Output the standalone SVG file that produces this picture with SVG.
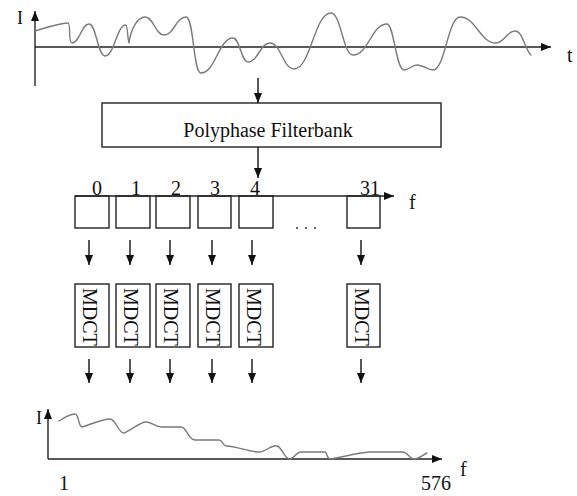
<svg xmlns="http://www.w3.org/2000/svg" width="577" height="496" viewBox="0 0 577 496">
<style>
text{font-family:"Liberation Serif","Times New Roman",serif;fill:#111;}
.lbl{font-size:20px;}
.ax{font-size:18px;}
.axis{stroke:#222;stroke-width:1.4;fill:none;}
.wave{stroke:#7a7a7a;stroke-width:1.4;fill:none;stroke-linejoin:round;stroke-linecap:round;}
.box{fill:#fff;stroke:#222;stroke-width:1.4;}
.conn{stroke:#111;stroke-width:1.4;fill:none;}
</style>
<defs>
<marker id="ah" markerUnits="userSpaceOnUse" markerWidth="10" markerHeight="8" refX="10" refY="4" orient="auto">
<path d="M0,0 L10,4 L0,8 z" fill="#111"/>
</marker>
</defs>
<g id="time-signal">
<line class="axis" x1="35" y1="86" x2="35" y2="11" marker-end="url(#ah)"/>
<line class="axis" x1="35" y1="47" x2="551" y2="47" marker-end="url(#ah)"/>
<path class="wave" d="M35,31 C48,27 60,23 68,23 C71,23 68,43 72,43 C79.6,43 81.4,24 89,24 C96.2,24 97.8,56 105,56 C114.5,56 116.5,25 126,25 C127.5,25 128,43 129,43 C131,28 138,17 145,17 C153.5,17 155.5,35 164,35 C173.9,35 176.1,17 186,17 C194,17 193,73 201,73 C215.4,73 218.6,38 233,38 C239.75,38 241.25,62 248,62 C257.9,62 260.1,43 270,43 C280.8,43 283.2,69 294,69 C310.65,69 314.35,13 331,13 C340.9,13 343.1,55 353,55 C368.3,55 371.7,24 387,24 C394,24 396,70 404,70 C409,70 412,65 417,65 C423,65 428,70 433,70 C445,70 448,17 460,17 C476,17 480,43 496,43 C504.5,43 506.5,31 515,31 C523,31 525,50 531,55"/>
<text class="ax" x="17" y="24">I</text>
<text class="lbl" x="567" y="62">t</text>
</g>
<g id="filterbank">
<rect class="box" x="102" y="103" width="339" height="44"/>
<text class="lbl" x="268" y="137" text-anchor="middle">Polyphase Filterbank</text>
</g>
<g id="subbands">
<rect class="box" x="75" y="196" width="34" height="32"/>
<rect class="box" x="116" y="196" width="34" height="32"/>
<rect class="box" x="156" y="196" width="34" height="32"/>
<rect class="box" x="198" y="196" width="33" height="32"/>
<rect class="box" x="239" y="196" width="34" height="32"/>
<rect class="box" x="347" y="196" width="33" height="32"/>
<line class="axis" x1="75" y1="196" x2="394" y2="196" marker-end="url(#ah)"/>
<g class="lbl" text-anchor="middle">
<text x="97" y="195">0</text>
<text x="136" y="195">1</text>
<text x="176" y="195">2</text>
<text x="215" y="195">3</text>
<text x="255" y="195">4</text>
<text x="370" y="195">31</text>
</g>
<text class="lbl" x="409" y="209">f</text>
<g fill="#222"><circle cx="297" cy="228" r="0.9"/><circle cx="306" cy="228" r="0.9"/><circle cx="315" cy="228" r="0.9"/></g>
</g>
<g id="mdct">
<rect class="box" x="75" y="284" width="34" height="63"/>
<rect class="box" x="116" y="284" width="34" height="63"/>
<rect class="box" x="156" y="284" width="34" height="63"/>
<rect class="box" x="198" y="284" width="33" height="63"/>
<rect class="box" x="239" y="284" width="34" height="63"/>
<rect class="box" x="347" y="284" width="33" height="63"/>
<g class="lbl">
<text transform="translate(83,288) rotate(90)">MDCT</text>
<text transform="translate(124,288) rotate(90)">MDCT</text>
<text transform="translate(164,288) rotate(90)">MDCT</text>
<text transform="translate(206,288) rotate(90)">MDCT</text>
<text transform="translate(247,288) rotate(90)">MDCT</text>
<text transform="translate(355,288) rotate(90)">MDCT</text>
</g>
</g>
<g id="spectrum">
<line class="axis" x1="48" y1="459" x2="48" y2="409" marker-end="url(#ah)"/>
<line class="axis" x1="48" y1="459" x2="442" y2="459" marker-end="url(#ah)"/>
<path class="wave" d="M59,421 C65,417 70,414 75,414 C79,414 78,426 82,427 C92,424 102,419 110,419 C116,419 118,433 124,433 C132,430 140,422 146,422 C152,422 154,427 162,427 L181,427 C187,427 188,440 195,440 L219,440 C223,440 222,446 227,446 C235,446 250,452 259,452 C266,452 272,444 277,446 C283,448 284,459 290,459 C294,459 296,452 301,452 L325,452 C327,452 327,459 330,459 C340,458 355,453 370,452 L403,452 C407,452 410,459 414,459 C419,459 423,455 427,453"/>
<text class="ax" x="36" y="424">I</text>
<text class="lbl" x="460" y="476">f</text>
<text class="lbl" x="59" y="490">1</text>
<text class="lbl" x="421" y="490">576</text>
</g>
<g id="connectors">
<line class="conn" x1="258" y1="78" x2="258" y2="103" marker-end="url(#ah)"/>
<line class="conn" x1="258" y1="147" x2="258" y2="178" marker-end="url(#ah)"/>
<line class="conn" x1="89" y1="240" x2="89" y2="265" marker-end="url(#ah)"/>
<line class="conn" x1="130" y1="240" x2="130" y2="265" marker-end="url(#ah)"/>
<line class="conn" x1="170" y1="240" x2="170" y2="265" marker-end="url(#ah)"/>
<line class="conn" x1="212" y1="240" x2="212" y2="265" marker-end="url(#ah)"/>
<line class="conn" x1="252" y1="240" x2="252" y2="265" marker-end="url(#ah)"/>
<line class="conn" x1="361" y1="240" x2="361" y2="265" marker-end="url(#ah)"/>
<line class="conn" x1="89" y1="359" x2="89" y2="383" marker-end="url(#ah)"/>
<line class="conn" x1="130" y1="359" x2="130" y2="383" marker-end="url(#ah)"/>
<line class="conn" x1="170" y1="359" x2="170" y2="383" marker-end="url(#ah)"/>
<line class="conn" x1="212" y1="359" x2="212" y2="383" marker-end="url(#ah)"/>
<line class="conn" x1="252" y1="359" x2="252" y2="383" marker-end="url(#ah)"/>
<line class="conn" x1="361" y1="359" x2="361" y2="383" marker-end="url(#ah)"/>
</g>
</svg>
